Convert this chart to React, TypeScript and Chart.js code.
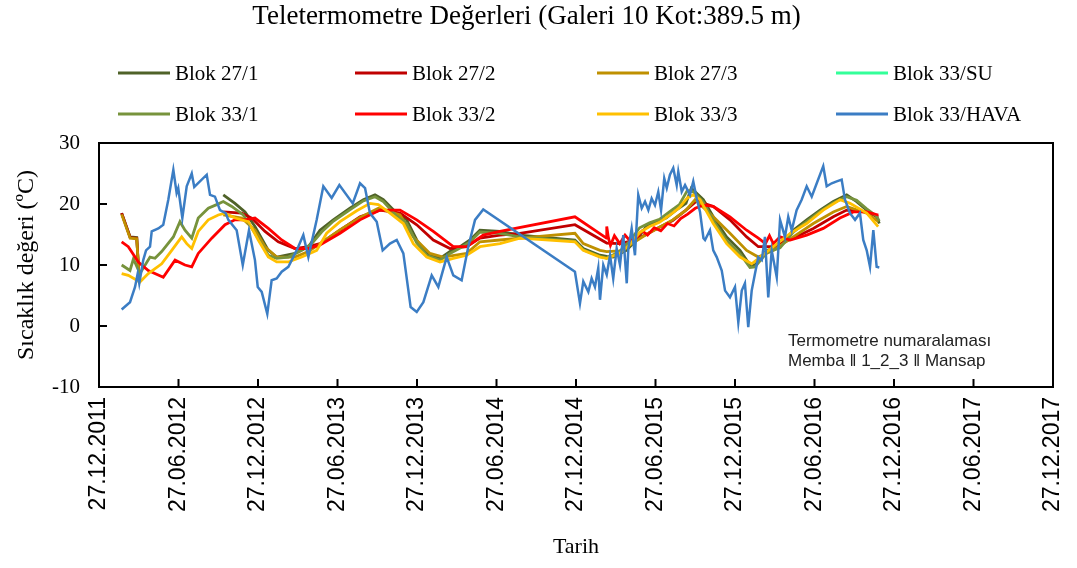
import React, { useEffect, useRef } from "react";
import { Chart, registerables } from "chart.js";

Chart.register(...registerables);

// x values: months elapsed since 27.12.2011 ; y values: temperature (°C)
const chartTitle = "Teletermometre Değerleri (Galeri 10 Kot:389.5 m)";
const xTitle = "Tarih";
const yTitle = "Sıcaklık değeri (ºC)";
const noteLines = ["Termometre numaralaması", "Memba \u2016 1_2_3 \u2016 Mansap"];

const tickLabels = [
  "27.12.2011", "27.06.2012", "27.12.2012", "27.06.2013", "27.12.2013", "27.06.2014",
  "27.12.2014", "27.06.2015", "27.12.2015", "27.06.2016", "27.12.2016", "27.06.2017", "27.12.2017",
];

const seriesNames = [
  "Blok 27/1", "Blok 27/2", "Blok 27/3", "Blok 33/SU",
  "Blok 33/1", "Blok 33/2", "Blok 33/3", "Blok 33/HAVA",
];
const seriesColors = [
  "#4F6228", "#C00000", "#BF9000", "#33FF99",
  "#77933C", "#FF0000", "#FFC000", "#3B7DC4",
];

type P = [number, number | null];

const blok27_1: P[] = [
  [1.71, 18.5], [2.35, 14.6], [2.85, 14.5], [3.04, 7.1], [3.5, null],
  [9.38, 21.5], [10.26, 20.1], [11.02, 18.7], [11.77, 16.3], [12.78, 12.4], [13.41, 11.3],
  [14.79, 11.9], [15.8, 13.0], [16.68, 15.7], [17.68, 17.4], [18.94, 19.3], [19.95, 20.7],
  [20.83, 21.5], [21.46, 20.7], [22.47, 18.5], [23.22, 17.4], [23.98, 14.1], [24.73, 11.9],
  [25.74, 11.1], [26.49, 12.2], [27.25, 13.0], [28.0, 14.1], [28.75, 15.7], [30.26, 15.5],
  [31.77, 14.9], [35.92, 14.1], [36.55, 12.7], [37.81, 11.6], [38.32, 11.4], [38.8, 11.3],
  [39.8, 12.4], [40.55, 14.1], [41.3, 16.3], [42.05, 17.1], [42.8, 17.7], [43.55, 19.0],
  [44.3, 20.1], [44.7, 22.6], [44.85, 22.3], [45.61, 20.7], [46.36, 17.9], [47.37, 14.6],
  [48.38, 12.4], [49.13, 10.0], [49.51, 10.0], [50.39, 12.4], [51.4, 13.0], [52.4, 15.7],
  [53.41, 17.4], [54.42, 19.0], [55.42, 20.4], [56.43, 21.5], [57.18, 20.4], [57.94, 19.0],
  [58.69, 17.9], [58.89, 16.8],
];

const blok27_2: P[] = [
  [1.71, 18.5], [2.35, 14.5], [2.85, 14.4], [3.04, 7.5], [3.5, null],
  [9.38, 18.7], [10.77, 18.5], [11.52, 17.7], [12.53, 15.5], [13.53, 13.8], [14.79, 12.7],
  [15.8, 13.0], [16.68, 13.5], [18.19, 15.7], [19.7, 17.9], [21.21, 19.0], [22.72, 18.5],
  [23.98, 16.6], [25.23, 14.1], [26.49, 12.7], [27.75, 13.0], [28.75, 14.4], [30.26, 14.9],
  [31.77, 15.2], [35.92, 16.6], [38.32, 13.6], [39.3, 13.5], [40.3, 14.0], [41.3, 15.0],
  [42.3, 16.2], [43.3, 17.3], [44.3, 19.0], [45.1, 20.5], [46.36, 19.6], [47.62, 17.4],
  [48.88, 14.6], [49.76, 13.0], [50.89, 13.0], [52.4, 14.4], [53.91, 16.0], [55.42, 17.9],
  [56.43, 19.0], [57.94, 18.7], [58.82, 17.9],
];

const blok27_3: P[] = [
  [1.71, 18.3], [2.35, 14.4], [2.85, 14.3], [3.04, 7.3], [3.5, null],
  [9.38, 18.2], [10.77, 17.7], [11.77, 15.7], [12.53, 13.0], [13.41, 11.3], [14.79, 11.3],
  [15.8, 12.2], [16.7, 13.5], [18.2, 15.8], [19.7, 17.8], [21.08, 19.3], [22.72, 18.2],
  [23.72, 14.6], [24.98, 11.9], [25.98, 11.3], [27.75, 11.9], [28.75, 13.8], [30.26, 14.1],
  [31.77, 14.4], [35.92, 15.2], [36.55, 13.5], [37.81, 12.4], [38.32, 12.2], [39.3, 12.3],
  [40.3, 13.6], [41.3, 15.0], [42.3, 16.2], [43.3, 17.4], [44.3, 19.0], [44.98, 20.7],
  [46.36, 17.9], [47.62, 15.2], [48.88, 12.4], [49.76, 11.3], [50.89, 12.4], [52.4, 14.6],
  [53.91, 16.8], [55.42, 18.7], [56.43, 19.6], [57.94, 18.5], [58.82, 17.1],
];

const blok33_su: P[] = [];

const blok33_1: P[] = [
  [1.71, 10.0], [2.34, 9.1], [2.6, 11.0], [3.09, 8.6], [3.85, 11.3], [4.23, 11.1], [4.73, 12.2],
  [5.61, 14.6], [6.11, 17.1], [6.49, 15.7], [7.0, 14.4], [7.49, 17.7], [8.25, 19.3],
  [8.88, 19.9], [9.38, 20.4], [10.02, 19.6], [10.89, 18.2], [11.77, 15.2], [12.78, 11.6],
  [13.41, 11.1], [14.29, 11.3], [15.3, 12.4], [16.05, 13.5], [16.8, 15.4], [17.7, 17.2],
  [18.9, 19.0], [19.95, 20.5], [20.83, 21.2], [21.46, 20.4], [22.47, 18.0], [23.22, 16.8],
  [23.98, 13.6], [24.73, 11.6], [25.74, 10.8], [26.49, 11.9], [27.25, 12.8], [28.0, 13.8],
  [28.75, 15.4], [30.26, 15.2], [31.77, 14.6], [35.92, 13.9], [36.55, 12.5], [37.81, 11.4],
  [38.32, 11.1], [39.3, 12.2], [40.05, 13.9], [40.8, 16.1], [41.55, 16.9], [42.3, 17.5],
  [43.1, 18.8], [43.8, 19.9], [44.4, 22.2], [44.85, 22.0], [45.61, 20.3], [46.36, 17.3],
  [47.37, 14.0], [48.38, 11.8], [49.13, 9.6], [49.51, 9.7], [50.39, 12.0], [51.4, 12.8],
  [52.4, 15.4], [53.41, 17.1], [54.42, 18.8], [55.42, 20.2], [56.43, 21.2], [57.18, 20.6],
  [57.94, 19.2], [58.69, 18.0], [58.89, 17.2],
];

const blok33_2: P[] = [
  [1.71, 13.8], [2.21, 13.0], [2.97, 10.5], [3.72, 9.1], [4.85, 8.0], [5.74, 10.8], [6.49, 10.0],
  [7.0, 9.7], [7.49, 11.9], [8.51, 14.4], [9.51, 16.6], [10.26, 17.4], [11.02, 17.4],
  [11.77, 17.7], [12.78, 16.0], [13.79, 14.1], [14.79, 12.7], [15.8, 12.7], [16.68, 13.3],
  [18.19, 15.2], [19.7, 17.4], [21.21, 19.0], [22.72, 19.0], [23.98, 17.4], [25.23, 15.5],
  [26.74, 13.0], [27.75, 13.0], [29.0, 14.9], [30.26, 15.5], [35.92, 17.9], [38.3, 14.4],
  [38.32, 16.3], [38.45, 14.4], [38.6, 13.2], [38.9, 14.8], [39.3, 13.5], [39.7, 14.9],
  [40.1, 13.9], [40.6, 14.6], [41.0, 15.6], [41.4, 14.9], [41.9, 16.1], [42.4, 15.6],
  [42.9, 16.8], [43.4, 16.4], [43.9, 17.6], [44.4, 18.3], [45.0, 19.3], [45.6, 19.8],
  [46.36, 19.6], [47.62, 17.9], [48.88, 15.7], [49.76, 14.4], [50.3, 13.5], [50.6, 14.8],
  [50.89, 13.5], [51.4, 14.6], [52.17, 14.1], [53.41, 14.9], [54.66, 16.0], [55.92, 17.7],
  [56.93, 18.7], [57.94, 18.7], [58.82, 18.2],
];

const blok33_3: P[] = [
  [1.71, 8.6], [2.21, 8.3], [3.09, 7.2], [3.72, 8.6], [4.73, 10.2], [5.49, 12.4], [6.24, 14.6],
  [6.62, 13.5], [7.0, 12.7], [7.49, 15.5], [8.25, 17.4], [9.0, 18.2], [9.51, 18.5],
  [10.26, 17.7], [11.27, 17.1], [12.02, 14.1], [12.78, 11.3], [13.41, 10.5], [14.29, 10.5],
  [15.3, 11.3], [16.43, 12.4], [17.18, 15.2], [18.19, 17.1], [19.45, 18.9], [20.45, 20.1],
  [21.08, 19.9], [21.96, 18.5], [22.97, 16.8], [23.72, 13.5], [24.73, 11.3], [25.74, 10.5],
  [26.74, 11.1], [27.75, 11.6], [28.75, 13.0], [30.26, 13.5], [31.77, 14.4], [35.92, 13.8],
  [36.55, 12.4], [37.81, 11.3], [38.32, 11.1], [39.3, 11.9], [40.05, 13.3], [40.8, 15.3],
  [41.55, 16.3], [42.3, 17.0], [43.1, 18.2], [43.8, 19.4], [44.4, 21.0], [44.85, 21.5],
  [45.36, 20.7], [46.36, 16.8], [47.37, 13.5], [48.38, 11.3], [49.26, 10.2], [49.9, 11.3],
  [50.9, 13.0], [52.17, 15.2], [53.41, 16.8], [54.66, 19.0], [55.92, 20.7], [56.68, 20.1],
  [57.94, 18.5], [58.8, 16.3],
];

const blok33_hava: P[] = [
  [1.71, 2.7], [2.34, 3.9], [2.72, 6.4], [2.92, 8.6], [3.04, 7.0], [3.34, 10.8], [3.55, 12.4],
  [3.85, 13.0], [3.98, 15.5], [4.48, 16.0], [4.85, 16.6], [5.23, 20.7], [5.61, 25.6],
  [5.86, 21.8], [5.98, 22.6], [6.29, 17.7], [6.62, 22.9], [7.0, 25.0], [7.19, 22.8],
  [8.13, 24.8], [8.38, 21.5], [8.75, 21.2], [9.13, 19.0], [9.56, 18.5], [9.76, 17.4],
  [10.39, 15.7], [10.85, 10.0], [11.32, 15.7], [11.77, 10.8], [11.98, 6.4], [12.28, 5.6],
  [12.7, 2.0], [13.03, 7.5], [13.41, 7.8], [13.79, 8.9], [14.29, 9.7], [14.66, 11.3],
  [15.04, 13.0], [15.42, 14.9], [15.8, 11.3], [16.43, 17.4], [16.93, 22.9], [17.56, 21.0],
  [18.14, 23.1], [19.15, 20.1], [19.7, 23.4], [20.08, 22.6], [20.45, 18.5], [20.96, 17.1],
  [21.41, 12.4], [21.96, 13.5], [22.47, 14.1], [22.97, 11.9], [23.52, 3.1], [23.98, 2.3],
  [24.48, 3.9], [25.11, 8.3], [25.61, 6.4], [26.24, 11.3], [26.74, 8.3], [27.37, 7.5],
  [27.87, 13.0], [28.38, 17.4], [29.0, 19.1], [35.92, 8.9], [36.3, 3.7], [36.55, 7.3],
  [36.93, 5.6], [37.18, 7.8], [37.43, 6.4], [37.68, 9.5], [37.81, 4.3], [38.06, 10.0],
  [38.32, 8.4], [38.57, 11.6], [38.81, 7.8], [39.07, 12.7], [39.32, 10.0], [39.57, 14.9],
  [39.83, 7.0], [39.95, 12.7], [40.2, 16.0], [40.45, 11.6], [40.7, 21.5], [40.96, 19.3],
  [41.21, 20.4], [41.46, 19.0], [41.71, 20.9], [41.96, 19.8], [42.21, 22.0], [42.42, 19.0],
  [42.66, 24.2], [42.85, 22.6], [43.09, 24.8], [43.34, 25.9], [43.6, 23.1], [43.72, 25.3],
  [43.98, 22.0], [44.23, 23.1], [44.6, 21.5], [44.85, 23.7], [45.11, 20.9], [45.36, 18.7],
  [45.62, 14.4], [45.74, 14.1], [46.11, 15.7], [46.36, 12.4], [46.62, 11.3], [47.0, 9.1],
  [47.25, 5.8], [47.62, 4.7], [48.0, 6.4], [48.25, 0.6], [48.51, 5.8], [48.75, 7.0],
  [49.0, -0.2], [49.26, 5.8], [49.51, 8.6], [49.76, 11.3], [50.02, 10.8], [50.26, 14.6],
  [50.51, 4.7], [50.77, 12.4], [51.15, 8.0], [51.4, 17.4], [51.77, 14.6], [52.02, 17.9],
  [52.28, 15.7], [52.65, 19.0], [53.03, 20.7], [53.41, 22.9], [53.79, 21.2], [54.17, 23.4],
  [54.66, 26.2], [54.92, 22.9], [55.3, 23.4], [55.68, 23.7], [56.05, 24.0], [56.3, 20.7],
  [56.68, 18.5], [57.06, 17.4], [57.43, 18.5], [57.68, 14.1], [57.94, 12.4], [58.19, 9.7],
  [58.44, 15.7], [58.69, 9.7], [58.89, 9.6],
];

const allSeries = [blok27_1, blok27_2, blok27_3, blok33_su, blok33_1, blok33_2, blok33_3, blok33_hava];

const SERIF = "'Liberation Serif', 'Times New Roman', serif";
const SANS = "'Liberation Sans', Arial, sans-serif";

const framePlugin = {
  id: "frameAndTicks",
  afterDraw(chart: any) {
    const { ctx, chartArea: a, scales } = chart;
    ctx.save();
    ctx.strokeStyle = "#000";
    ctx.lineWidth = 2;
    ctx.strokeRect(a.left, a.top, a.right - a.left, a.bottom - a.top);
    ctx.beginPath();
    for (const t of scales.x.ticks) {
      const px = scales.x.getPixelForValue(t.value);
      ctx.moveTo(px, a.bottom);
      ctx.lineTo(px, a.bottom - 8);
    }
    for (const t of scales.y.ticks) {
      const py = scales.y.getPixelForValue(t.value);
      ctx.moveTo(a.left, py);
      ctx.lineTo(a.left + 8, py);
    }
    ctx.stroke();

    // note text
    ctx.fillStyle = "#222";
    ctx.font = "17px 'Liberation Sans', Arial, sans-serif";
    ctx.textAlign = "left";
    ctx.textBaseline = "middle";
    const nx = scales.x.getPixelForValue(52.0);
    ctx.fillText(noteLines[0], nx, scales.y.getPixelForValue(-2.5));
    ctx.fillText(noteLines[1], nx, scales.y.getPixelForValue(-5.8));

    // legend (2 rows x 4 columns)
    const colX = [118, 355, 597, 836];
    const rowY = [73, 114];
    ctx.font = "21px " + SERIF;
    chart.data.datasets.forEach((ds: any, i: number) => {
      const cx = colX[i % 4];
      const cy = rowY[Math.floor(i / 4)];
      ctx.strokeStyle = ds.borderColor;
      ctx.lineWidth = 3;
      ctx.beginPath();
      ctx.moveTo(cx, cy);
      ctx.lineTo(cx + 52, cy);
      ctx.stroke();
      ctx.fillStyle = "#000";
      ctx.fillText(ds.label, cx + 57, cy + 1);
    });
    ctx.restore();
  },
};

export default function App() {
  const ref = useRef<HTMLCanvasElement | null>(null);
  useEffect(() => {
    if (!ref.current) return;
    const datasets = allSeries.map((s, i) => ({
      label: seriesNames[i],
      data: s.map(([x, y]) => ({ x, y })),
      borderColor: seriesColors[i],
      backgroundColor: seriesColors[i],
      borderWidth: i === 7 ? 2.5 : 2.8,
      pointRadius: 0,
      tension: 0,
      spanGaps: false,
      order: 7 - i,
    }));
    const chart = new Chart(ref.current, {
      type: "line",
      data: { datasets },
      plugins: [framePlugin],
      options: {
        animation: false,
        responsive: false,
        devicePixelRatio: 1,
        layout: { padding: { left: 0, right: 24, top: 0, bottom: 0 } },
        plugins: {
          legend: { display: false },
          tooltip: { enabled: false },
          title: {
            display: true,
            text: chartTitle,
            color: "#000",
            font: { family: SERIF, size: 27, weight: "normal" },
            padding: { top: 1, bottom: 109.6 },
          },
        },
        scales: {
          x: {
            type: "linear",
            min: 0,
            max: 72,
            grid: { display: false, drawTicks: false },
            border: { display: false },
            ticks: {
              stepSize: 6,
              minRotation: 90,
              maxRotation: 90,
              padding: 10,
              color: "#000",
              font: { family: SANS, size: 23 },
              callback: (v: any) => tickLabels[Math.round(Number(v) / 6)] ?? "",
            },
            title: {
              display: true,
              text: xTitle,
              color: "#000",
              font: { family: SERIF, size: 22 },
              padding: { top: 0, bottom: 8 },
            },
            afterFit: (s: any) => {
              s.height = 181;
              s.paddingLeft = 0;
              s.paddingRight = 0;
            },
          },
          y: {
            min: -10,
            max: 30,
            grid: { display: false, drawTicks: false },
            border: { display: false },
            ticks: {
              stepSize: 10,
              padding: 19,
              color: "#000",
              font: { family: SERIF, size: 21 },
            },
            title: {
              display: true,
              text: yTitle,
              color: "#000",
              font: { family: SERIF, size: 24 },
              padding: { top: 12, bottom: 0 },
            },
            afterFit: (s: any) => {
              s.width = 99;
            },
          },
        },
      },
    });
    return () => chart.destroy();
  }, []);
  return (
    <div style={{ position: "absolute", left: 0, top: 0, width: 1077, height: 568, background: "#fff" }}>
      <canvas ref={ref} width={1077} height={568} />
    </div>
  );
}
